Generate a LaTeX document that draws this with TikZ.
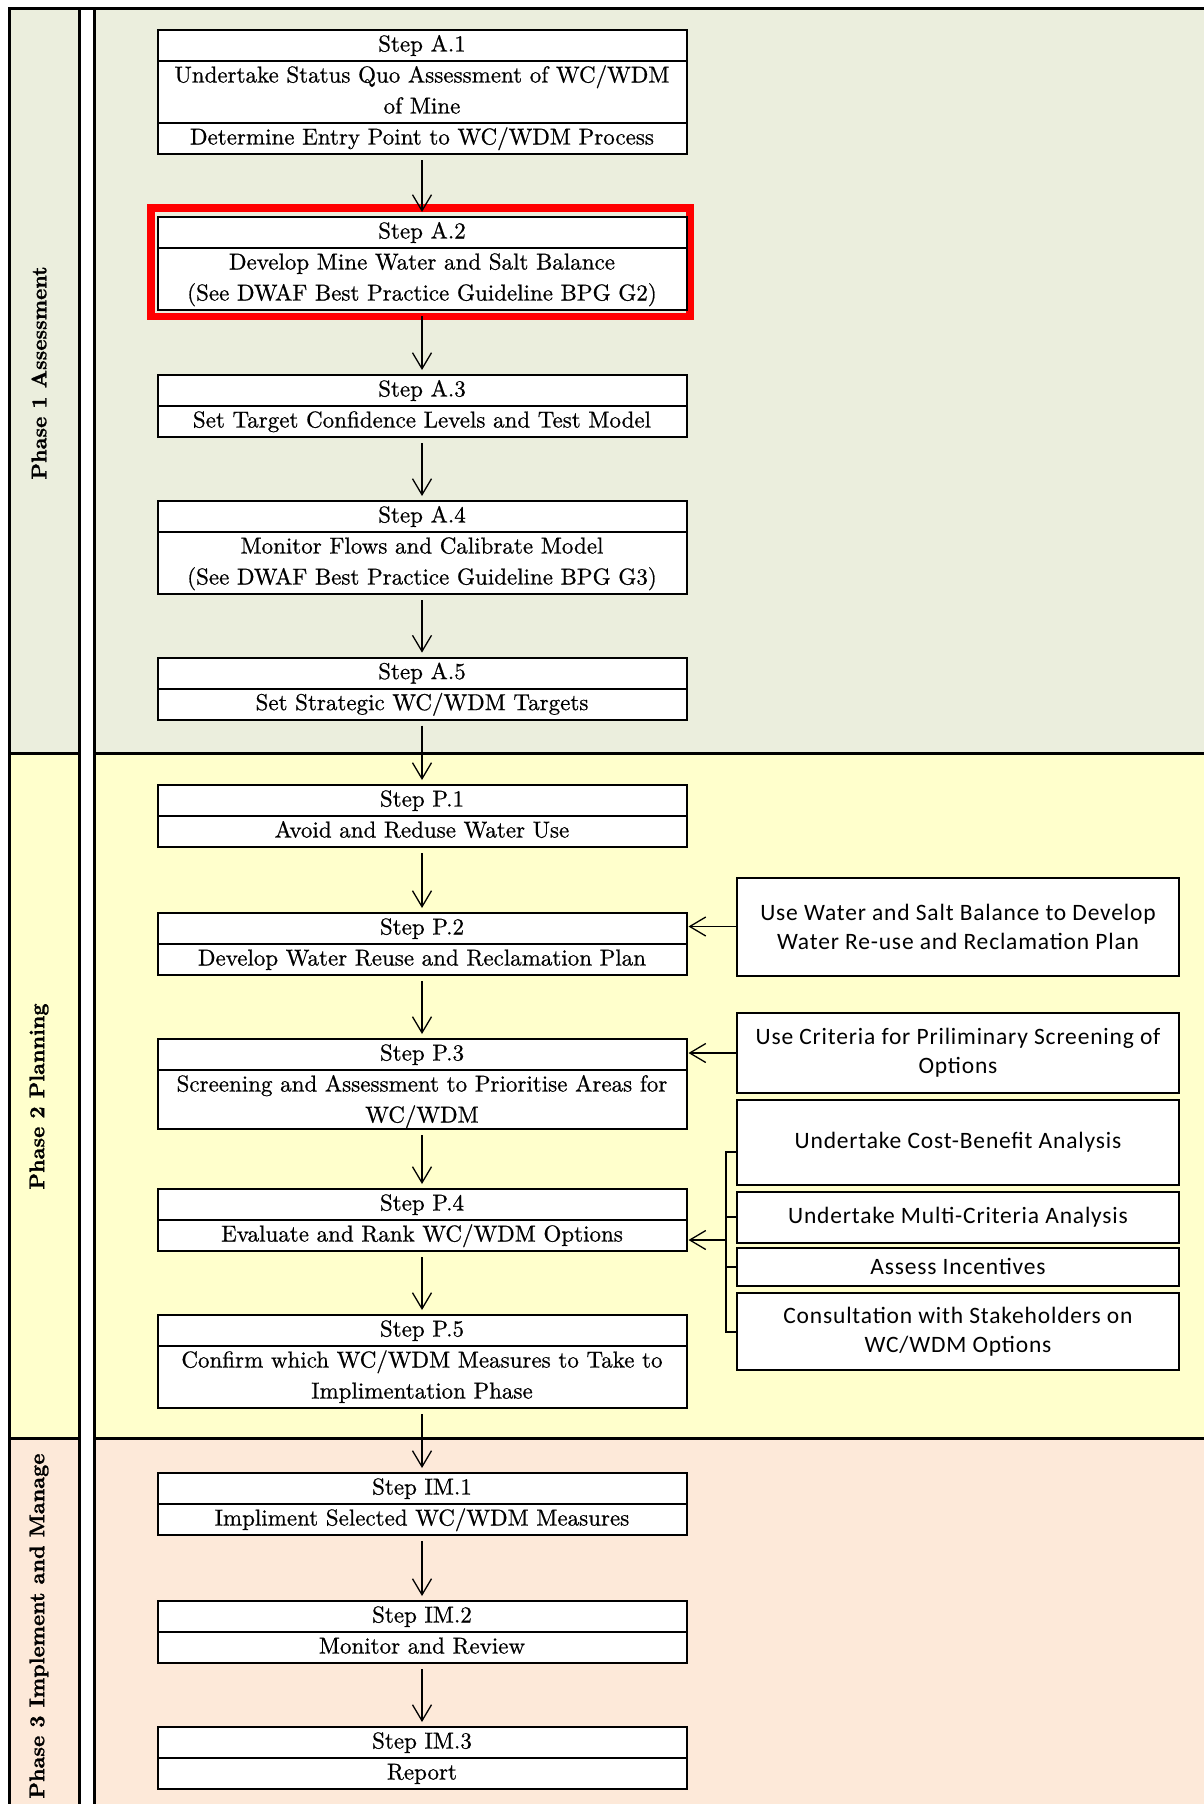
\documentclass[tikz,border=0pt]{standalone}
\usepackage{fontspec}
\setmainfont{lmroman10-regular.otf}[FakeBold=0.7, BoldFont=lmroman10-bold.otf, BoldFeatures={FakeBold=1.2}]
\newfontfamily\sidefont{Carlito}[LetterSpace=3.5]
\usetikzlibrary{shapes,arrows.meta,calc}
\definecolor{phaseA}{HTML}{EBEEDD}
\definecolor{phaseP}{HTML}{FFFFCC}
\definecolor{phaseIM}{HTML}{FDE9D9}
\newcommand{\rowstrut}{\rule[-8.5pt]{0pt}{29pt}}

\begin{document}
\begin{tikzpicture}[x=1pt,y=-1pt,
  frame/.style={line width=3pt},
  stepbox/.style={draw, line width=2pt, fill=white, rectangle split, rectangle split parts=2,
    text width=518pt, inner xsep=5.5pt, inner ysep=0pt, align=center,
    font=\fontsize{23}{31}\selectfont, anchor=north},
  sidebox/.style={draw, line width=2pt, fill=white, minimum width=442pt, inner sep=0pt,
    align=center, font=\sidefont\fontsize{23.5}{29}\selectfont},
  arr/.style={-{Straight Barb[length=16pt,width=19pt]}, line width=1.3pt, shorten <=5pt, shorten >=4pt},
  phaselabel/.style={rotate=90, font=\fontsize{21.2}{25}\selectfont\bfseries}]
\useasboundingbox (0,0) rectangle (1203,1804);
% phase bands
\foreach \xa/\xb in {9/79,94/1210} {
  \fill[phaseA] (\xa,8) rectangle (\xb,753);
  \fill[phaseP] (\xa,753) rectangle (\xb,1438.6);
  \fill[phaseIM] (\xa,1438.6) rectangle (\xb,1810);
}
\draw[frame] (9,1810) -- (9,8) -- (1210,8);
\draw[frame] (79,8) -- (79,1810);
\draw[frame] (94,8) -- (94,1810);
\foreach \yy in {753,1438.6} {
  \draw[frame] (9,\yy) -- (79,\yy);
  \draw[frame] (94,\yy) -- (1210,\yy);
}
\node[phaselabel] (ph1) at (39,373) {Phase 1 Assessment};
\node[phaselabel] (ph2) at (39,1096.5) {Phase 2 Planning};
\node[phaselabel, anchor=east] (ph3) at (39,1450) {Phase 3 Implement and Manage};
% highlight round step A.2
\draw[red, line width=7.5pt] (151,208) rectangle (690,316.5);
% steps
\draw (422,29) node[stepbox, rectangle split parts=3] (a1) {\rowstrut Step A.1
  \nodepart{two}\rowstrut Undertake Status Quo Assessment of WC/WDM\\\rowstrut of Mine
  \nodepart{three}\rowstrut Determine Entry Point to WC/WDM Process};
\draw (422,216) node[stepbox] (a2) {\rowstrut Step A.2
  \nodepart{two}\rowstrut Develop Mine Water and Salt Balance\\\rowstrut (See DWAF Best Practice Guideline BPG G2)};
\draw (422,374) node[stepbox] (a3) {\rowstrut Step A.3
  \nodepart{two}\rowstrut Set Target Confidence Levels and Test Model};
\draw (422,500) node[stepbox] (a4) {\rowstrut Step A.4
  \nodepart{two}\rowstrut Monitor Flows and Calibrate Model\\\rowstrut (See DWAF Best Practice Guideline BPG G3)};
\draw (422,656.6) node[stepbox] (a5) {\rowstrut Step A.5
  \nodepart{two}\rowstrut Set Strategic WC/WDM Targets};
\draw (422,784) node[stepbox] (p1) {\rowstrut Step P.1
  \nodepart{two}\rowstrut Avoid and Reduse Water Use};
\draw (422,912) node[stepbox] (p2) {\rowstrut Step P.2
  \nodepart{two}\rowstrut Develop Water Reuse and Reclamation Plan};
\draw (422,1038) node[stepbox] (p3) {\rowstrut Step P.3
  \nodepart{two}\rowstrut Screening and Assessment to Prioritise Areas for\\WC/WDM};
\draw (422,1188) node[stepbox] (p4) {\rowstrut Step P.4
  \nodepart{two}\rowstrut Evaluate and Rank WC/WDM Options};
\draw (422,1314) node[stepbox] (p5) {\rowstrut Step P.5
  \nodepart{two}\rowstrut Confirm which WC/WDM Measures to Take to\\\rowstrut Implimentation Phase};
\draw (422,1472) node[stepbox] (im1) {\rowstrut Step IM.1
  \nodepart{two}\rowstrut Impliment Selected WC/WDM Measures};
\draw (422,1600) node[stepbox] (im2) {\rowstrut Step IM.2
  \nodepart{two}\rowstrut Monitor and Review};
\draw (422,1726) node[stepbox] (im3) {\rowstrut Step IM.3
  \nodepart{two}\rowstrut Report};
% side tasks
\draw (958,926.5) node[sidebox, minimum height=98pt] (r1) {Use Water and Salt Balance to Develop\\Water Re-use and Reclamation Plan};
\draw (958,1053) node[sidebox, minimum height=80pt] (r2) {Use Criteria for Priliminary Screening of\\Options};
\draw (958,1142.4) node[sidebox, minimum height=85pt] (r3) {Undertake Cost-Benefit Analysis};
\draw (958,1217) node[sidebox, minimum height=51pt] (r4) {Undertake Multi-Criteria Analysis};
\draw (958,1266.8) node[sidebox, minimum height=37.5pt] (r5) {Assess Incentives};
\draw (958,1331.5) node[sidebox, minimum height=77pt] (r6) {Consultation with Stakeholders on\\WC/WDM Options};
% flow
\draw [arr] (a1) -- (a2);
\draw [arr] (a2) -- (a3);
\draw [arr] (a3) -- (a4);
\draw [arr] (a4) -- (a5);
\draw [arr] (a5) -- (p1);
\draw [arr] (p1) -- (p2);
\draw [arr] (p2) -- (p3);
\draw [arr] (p3) -- (p4);
\draw [arr] (p4) -- (p5);
\draw [arr] (p5) -- (im1);
\draw [arr] (im1) -- (im2);
\draw [arr] (im2) -- (im3);
\draw [arr, shorten <=0pt, shorten >=1pt] (r1.west) -- (r1.west -| p2.east);
\draw [arr, shorten <=0pt, shorten >=1pt] (r2.west) -- (r2.west -| p3.east);
% bracket for P.4 tasks
\coordinate (brk) at (726,1240);
\draw [line width=2pt] ($(r3.west)+(0,10)$) -| (brk |- r6.west) -- (r6.west);
\foreach \n in {r4,r5} \draw [line width=2pt] (\n.west) -- (\n.west -| brk);
\draw [arr, shorten <=0pt, shorten >=1pt] (brk) -- (brk -| p4.east);
\end{tikzpicture}
\end{document}
